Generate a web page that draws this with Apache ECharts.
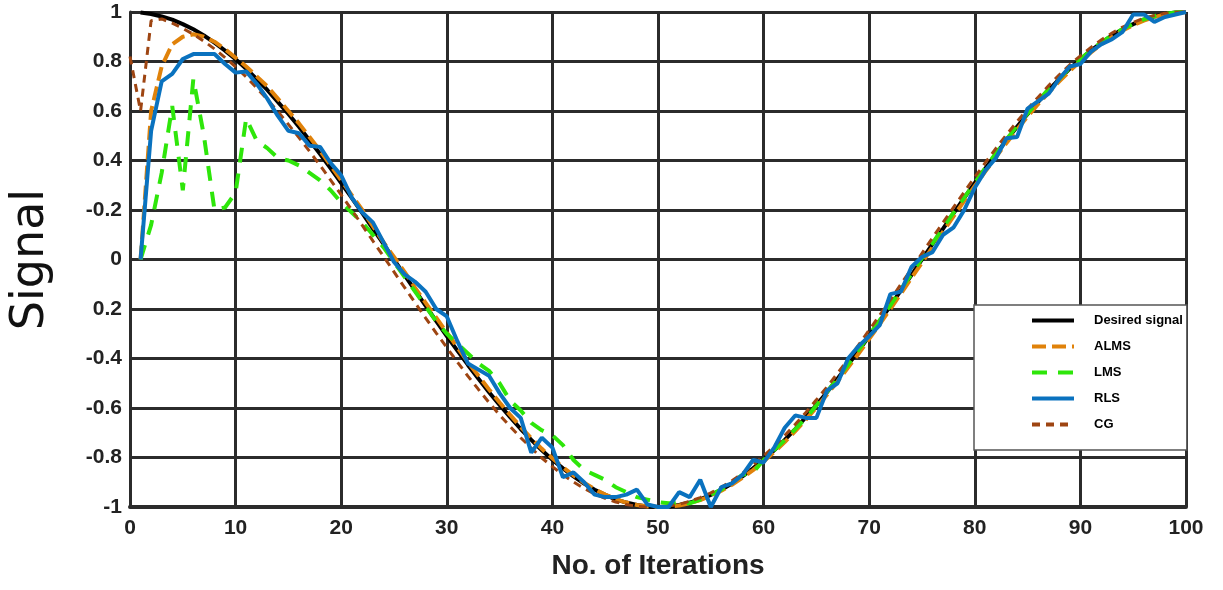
<!DOCTYPE html>
<html>
<head>
<meta charset="utf-8">
<script src="https://cdn.jsdelivr.net/npm/echarts@6/dist/echarts.min.js"></script>
<style>
  html, body { margin: 0; padding: 0; background: #fff; }
  #chart { width: 1223px; height: 590px; }
</style>
</head>
<body>
<div id="chart"></div>
<script>
// iterations 1..100 (CG also starts at 0)
const iterations = Array.from({ length: 100 }, (_, i) => i + 1)

// y tick labels, top (1) to bottom (-1), as printed on the figure
const yTickLabels = ['1', '0.8', '0.6', '0.4', '-0.2', '0', '0.2', '-0.4', '-0.6', '-0.8', '-1']

const desired = [
  0.998, 0.992, 0.982, 0.969, 0.951, 0.930, 0.905, 0.876, 0.844, 0.809,
  0.771, 0.729, 0.685, 0.637, 0.588, 0.536, 0.482, 0.426, 0.368, 0.309,
  0.249, 0.187, 0.125, 0.063, 0.000, -0.063, -0.125, -0.187, -0.249, -0.309,
  -0.368, -0.426, -0.482, -0.536, -0.588, -0.637, -0.685, -0.729, -0.771, -0.809,
  -0.844, -0.876, -0.905, -0.930, -0.951, -0.969, -0.982, -0.992, -0.998, -1.000,
  -0.998, -0.992, -0.982, -0.969, -0.951, -0.930, -0.905, -0.876, -0.844, -0.809,
  -0.771, -0.729, -0.685, -0.637, -0.588, -0.536, -0.482, -0.426, -0.368, -0.309,
  -0.249, -0.187, -0.125, -0.063, 0.000, 0.063, 0.125, 0.187, 0.249, 0.309,
  0.368, 0.426, 0.482, 0.536, 0.588, 0.637, 0.685, 0.729, 0.771, 0.809,
  0.844, 0.876, 0.905, 0.930, 0.951, 0.969, 0.982, 0.992, 0.998, 1.000
]

const alms = [
  0.00, 0.60, 0.78, 0.87, 0.90, 0.91, 0.90, 0.88, 0.85, 0.815,
  0.78, 0.74, 0.70, 0.65, 0.60, 0.55, 0.495, 0.44, 0.38, 0.32,
  0.26, 0.20, 0.135, 0.07, 0.01, -0.05, -0.115, -0.175, -0.235, -0.295,
  -0.355, -0.415, -0.47, -0.525, -0.578, -0.628, -0.677, -0.722, -0.765, -0.803,
  -0.84, -0.872, -0.902, -0.928, -0.95, -0.968, -0.982, -0.992, -0.998, -1.0,
  -0.999, -0.994, -0.985, -0.972, -0.955, -0.934, -0.91, -0.882, -0.851, -0.816,
  -0.778, -0.738, -0.693, -0.647, -0.598, -0.546, -0.493, -0.437, -0.38, -0.321,
  -0.261, -0.2, -0.138, -0.075, -0.013, 0.05, 0.113, 0.175, 0.237, 0.297,
  0.356, 0.414, 0.471, 0.525, 0.578, 0.628, 0.675, 0.72, 0.762, 0.802,
  0.837, 0.87, 0.899, 0.925, 0.947, 0.965, 0.98, 0.99, 0.997, 1.0
]

const lms = [
  0.00, 0.14, 0.35, 0.62, 0.28, 0.73, 0.50, 0.20, 0.21, 0.27,
  0.57, 0.48, 0.45, 0.41, 0.40, 0.38, 0.35, 0.32, 0.28, 0.23,
  0.19, 0.15, 0.10, 0.05, -0.01, -0.07, -0.13, -0.19, -0.25, -0.30,
  -0.34, -0.38, -0.42, -0.45, -0.50, -0.57, -0.61, -0.66, -0.69, -0.71,
  -0.75, -0.81, -0.85, -0.87, -0.89, -0.92, -0.94, -0.96, -0.97, -0.98,
  -0.985, -0.985, -0.985, -0.97, -0.95, -0.93, -0.90, -0.87, -0.86, -0.81,
  -0.77, -0.73, -0.685, -0.64, -0.59, -0.535, -0.48, -0.425, -0.365, -0.305,
  -0.245, -0.185, -0.12, -0.06, 0.005, 0.065, 0.13, 0.19, 0.25, 0.31,
  0.37, 0.43, 0.485, 0.54, 0.59, 0.64, 0.69, 0.73, 0.775, 0.81,
  0.845, 0.878, 0.906, 0.931, 0.952, 0.97, 0.983, 0.993, 0.998, 1.0
]

const rls = [
  0.00, 0.52, 0.72, 0.75, 0.81, 0.83, 0.83, 0.83, 0.79, 0.755,
  0.76, 0.71, 0.65, 0.58, 0.52, 0.51, 0.46, 0.455, 0.39, 0.34,
  0.25, 0.19, 0.15, 0.07, -0.01, -0.06, -0.09, -0.13, -0.20, -0.23,
  -0.33, -0.42, -0.445, -0.47, -0.54, -0.60, -0.64, -0.78, -0.72, -0.76,
  -0.88, -0.86, -0.90, -0.95, -0.96, -0.96, -0.95, -0.93, -0.99, -1.00,
  -1.00, -0.94, -0.96, -0.89, -1.00, -0.92, -0.905, -0.87, -0.81, -0.82,
  -0.76, -0.68, -0.63, -0.64, -0.64, -0.53, -0.50, -0.40, -0.35, -0.31,
  -0.265, -0.14, -0.13, -0.03, 0.01, 0.03, 0.10, 0.13, 0.20, 0.29,
  0.36, 0.41, 0.49, 0.495, 0.61, 0.64, 0.67, 0.73, 0.78, 0.79,
  0.84, 0.87, 0.89, 0.92, 0.99, 0.99, 0.96, 0.98, 0.99, 1.00
]

// CG starts at iteration 0
const cgIterations = [0].concat(iterations)
const cg = [
  0.82,
  0.60, 0.965, 0.972, 0.955, 0.934, 0.910, 0.882, 0.851, 0.816, 0.778,
  0.738, 0.693, 0.647, 0.598, 0.546, 0.493, 0.437, 0.380, 0.321, 0.261,
  0.200, 0.138, 0.075, 0.013, -0.050, -0.113, -0.175, -0.237, -0.297, -0.356,
  -0.414, -0.471, -0.525, -0.578, -0.628, -0.675, -0.720, -0.762, -0.802, -0.837,
  -0.870, -0.899, -0.925, -0.947, -0.965, -0.980, -0.990, -0.997, -1.000, -0.999,
  -0.996, -0.989, -0.977, -0.962, -0.943, -0.920, -0.894, -0.864, -0.830, -0.794,
  -0.755, -0.711, -0.666, -0.618, -0.567, -0.515, -0.460, -0.403, -0.345, -0.285,
  -0.225, -0.163, -0.100, -0.038, 0.025, 0.088, 0.150, 0.212, 0.273, 0.333,
  0.391, 0.449, 0.504, 0.557, 0.608, 0.656, 0.703, 0.746, 0.787, 0.823,
  0.857, 0.888, 0.915, 0.939, 0.958, 0.975, 0.986, 0.995, 0.999, 1.000
]

const pairs = (xs, ys) => xs.map((x, i) => [x, ys[i]])

const labelFont = "'Liberation Sans', Arial, sans-serif"
const gridColor = '#2b2b2b'

const chart = echarts.init(document.getElementById('chart'))
const option = {
  animation: false,
  backgroundColor: '#fff',
  grid: {
    left: 127,
    right: 37,
    top: 12,
    bottom: 83
  },
  legend: {
    orient: 'vertical',
    left: 974,
    top: 305,
    padding: [9, 4, 19, 56],
    itemWidth: 42,
    itemHeight: 14,
    itemGap: 13,
    backgroundColor: '#fff',
    borderColor: '#555',
    borderWidth: 1.5,
    itemStyle: { opacity: 0 },
    lineStyle: { width: 4 },
    data: ['Desired signal', 'ALMS', 'LMS', 'RLS', 'CG'],
    textStyle: {
      fontFamily: labelFont,
      fontWeight: 'bold',
      fontSize: 13,
      color: '#000',
      padding: [0, 0, 0, 15]
    }
  },
  xAxis: {
    type: 'value',
    min: 0,
    max: 100,
    interval: 10,
    name: 'No. of Iterations',
    nameLocation: 'middle',
    nameGap: 45,
    nameTextStyle: {
      fontFamily: labelFont,
      fontWeight: 'bold',
      fontSize: 28,
      color: '#222'
    },
    axisLine: { onZero: false, lineStyle: { color: gridColor, width: 4 } },
    axisTick: { show: false },
    axisLabel: {
      margin: 11,
      fontFamily: labelFont,
      fontWeight: 'bold',
      fontSize: 21,
      color: '#222'
    },
    splitLine: { show: true, lineStyle: { color: gridColor, width: 3 } }
  },
  yAxis: {
    type: 'value',
    min: -1,
    max: 1,
    interval: 0.2,
    name: 'Signal',
    nameLocation: 'middle',
    nameRotate: 90,
    nameGap: 76,
    nameTextStyle: {
      fontFamily: "'DejaVu Sans', sans-serif",
      fontSize: 46,
      color: '#111'
    },
    axisLine: { show: true, onZero: false, lineStyle: { color: gridColor, width: 3 } },
    axisTick: { show: false },
    axisLabel: {
      margin: 8,
      fontFamily: labelFont,
      fontWeight: 'bold',
      fontSize: 21,
      color: '#222',
      formatter: v => yTickLabels[Math.round((1 - v) / 0.2)]
    },
    splitLine: { show: true, lineStyle: { color: gridColor, width: 3 } }
  },
  series: [
    {
      name: 'Desired signal',
      type: 'line',
      symbol: 'none',
      data: pairs(iterations, desired),
      lineStyle: { color: '#000', width: 4 },
      itemStyle: { color: '#000' }
    },
    {
      name: 'ALMS',
      type: 'line',
      symbol: 'none',
      data: pairs(iterations, alms),
      lineStyle: { color: '#e0820a', width: 4, type: [14, 6] },
      itemStyle: { color: '#e0820a' }
    },
    {
      name: 'LMS',
      type: 'line',
      symbol: 'none',
      data: pairs(iterations, lms),
      lineStyle: { color: '#2ee60a', width: 4, type: [15, 11] },
      itemStyle: { color: '#2ee60a' }
    },
    {
      name: 'CG',
      type: 'line',
      symbol: 'none',
      data: pairs(cgIterations, cg),
      lineStyle: { color: '#9e4512', width: 3, type: [8, 6] },
      itemStyle: { color: '#9e4512' }
    },
    {
      name: 'RLS',
      type: 'line',
      symbol: 'none',
      data: pairs(iterations, rls),
      lineStyle: { color: '#0a72bf', width: 4 },
      itemStyle: { color: '#0a72bf' }
    }
  ]
}
chart.setOption(option)

window.addEventListener('resize', function() {
  chart.resize()
})
</script>
</body>
</html>
